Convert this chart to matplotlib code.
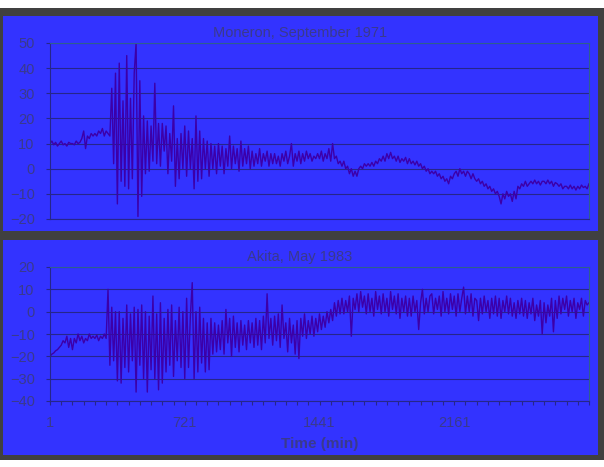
import numpy as np
import matplotlib.pyplot as plt
from matplotlib.patches import Rectangle

# figure size in pixels
W, H = 604, 467

# readings every 10 minutes, t = 1, 11, ..., 2881
moneron = [
    10, 11, 9.5, 10.5, 9, 10, 11, 9.5, 10, 9, 10.5, 10,
    10, 9.5, 11, 10, 10.5, 12, 15, 8, 13, 12, 14, 13,
    14, 13, 15, 14, 16, 13, 15, 14, 13, 32, 2, 38,
    -14, 42, -5, 27, -7, 45, -8, 28, -4, 38, 50, -19,
    35, -11, 21, -2, 19, -1, 17, 3, 34, 2, 18, 1,
    18, 7, 17, -2, 14, 3, 25, -7, 12, -4, 14, 0,
    17, -3, 15, 0, 12, -8, 21, -5, 15, -4, 12, 0,
    11, -3, 10, 0, 9, -2, 10, 1, 9, -2, 8, 1,
    13, 0, 9, 2, 8, -1, 11, 1, 8, 2, 9, 0,
    7, 1, 6, 2, 8, 1, 6, 3, 7, 1, 6, 2,
    6, 2, 5, 1, 6, 3, 7, 2, 5, 10, 1, 6,
    3, 7, 2, 6, 3, 7, 4, 6, 3, 5, 4, 6,
    4, 7, 3, 6, 4, 8, 3, 10, 4, 5, 2, 3,
    1, 3, 0, 1, -2, 0, -3, -1, -3, 0, 1, 0,
    2, 1, 2, 1, 2.5, 1, 3, 2, 4, 3, 5, 3,
    6, 4, 6.5, 4, 5, 3, 5, 2.5, 4, 3, 4.5, 2,
    4, 2, 3, 1.5, 3, 1, 2, 0, 1, -1, 0, -2,
    -1, -2, -1, -3, -2, -4, -3, -5, -4, -6, -3, -4,
    -2, -1, -3, 0, -2, -1, -3, -1, -2, -4, -2, -4,
    -5, -4, -6, -5, -7, -6, -8, -7, -9, -8, -10, -9,
    -11, -14, -10, -12, -9, -11, -10, -13, -9, -12, -7, -8,
    -6, -7, -5, -7, -6, -5, -6, -4.5, -6, -5, -6.5, -5,
    -5, -6, -4.5, -6, -5, -7, -5.5, -6, -7, -6, -8, -7,
    -7, -8, -6.5, -8, -7, -8.5, -7, -8, -6.5, -7.5, -7, -8,
    -6,
]

akita = [
    -20, -19, -18.5, -17.5, -17, -16, -15, -13, -14, -11, -16, -12,
    -17, -12, -14, -10, -13, -11, -14, -12, -13, -10, -12, -11,
    -12, -10.5, -13, -11, -12, -10, -12, 10, -24, 2, -22, 0,
    -31, 0, -32, -3, -25, 3, -27, -1, -22, 2, -36, 1,
    -24, 3, -30, 0, -36, -2, -26, 7, -30, -1, -35, 4,
    -32, -3, -27, 1, -24, 3, -29, -4, -22, 2, -25, 0,
    -30, 6, -25, -2, 13, -30, 0, -27, 2, -23, -3, -27,
    -5, -26, -3, -19, -5, -18, -6, -17, -4, -19, 1, -14,
    -3, -20, -2, -16, -5, -18, -4, -15, -6, -17, -4, -14,
    -5, -16, -3, -15, -4, -17, -2, -14, 8, -12, -3, -15,
    -2, -13, -1, -16, 3, -12, -5, -18, -3, -14, -6, -19,
    -4, -21, -3, -11, -1, -12, -4, -10, -2, -11, -3, -9,
    -1, -8, -2, -7, 0, -5, 1, -4, 4, -2, 5, -1,
    6, -1, 5, 0, 7, -11, 6, 1, 8, 0, 9, 2,
    7, -1, 8, 0, 6, -2, 9, 1, 7, -1, 8, 0,
    6, -2, 9, 1, 7, -1, 8, -3, 6, 0, 7, -2,
    6, -2, 7, 0, 5, -8, 4, 10, -1, 6, 0, 7,
    8, -1, 6, 1, 7, -2, 9, 0, 6, -1, 8, 1,
    7, -2, 8, 0, 6, 11, -1, 7, 0, 8, -2, 6,
    5, -4, 6, -1, 7, 0, 5, -3, 6, -1, 7, -2,
    6, -3, 5, 0, 7, -1, 6, -2, 4, -3, 5, -1,
    6, -2, 5, -3, 4, -1, 6, -4, 3, -2, 5, -10,
    4, -5, 3, -2, 6, -9, 5, -3, 7, -1, 6, 1,
    7, -2, 5, 0, 6, -3, 4, 1, 6, -2, 5, 3,
    4,
]

minutes = np.arange(1, 2882, 10)
x_labels = [1, 721, 1441, 2161]
top_yticks = [-20, -10, 0, 10, 20, 30, 40, 50]
bot_yticks = [-40, -30, -20, -10, 0, 10, 20]

blue = '#3333FF'
frame = '#404040'
grid_c = '#26268A'
text_c = '#3A3A8C'
line_c = '#3C00A8'

fig = plt.figure(figsize=(W / 100, H / 100), dpi=100)
fig.patch.set_facecolor('white')


def box(x0, y0, x1, y1, color):
    # pixel box, origin top-left
    fig.patches.append(Rectangle((x0 / W, 1 - y1 / H), (x1 - x0) / W, (y1 - y0) / H,
                                 transform=fig.transFigure, facecolor=color,
                                 edgecolor='none', zorder=-5))


box(0, 8, W, 460, frame)
box(3, 16, 598, 231, blue)
box(3, 240, 598, 455, blue)


def make_axes(px_top, px_bot, ylim, yticks):
    ax = fig.add_axes([50 / W, 1 - px_bot / H, 539 / W, (px_bot - px_top) / H])
    ax.set_facecolor('none')
    ax.set_xlim(1, 2881)
    ax.set_ylim(*ylim)
    ax.set_yticks(yticks)
    ax.grid(axis='y', color=grid_c, lw=0.8)
    ax.set_axisbelow(True)
    for s in ['top', 'right']:
        ax.spines[s].set_color('#2F5F8F')
        ax.spines[s].set_linewidth(0.8)
    ax.spines['left'].set_color(grid_c)
    ax.spines['bottom'].set_color(grid_c)
    ax.tick_params(axis='y', colors=grid_c, labelcolor=text_c, labelsize=10.5,
                   length=3, pad=8)
    for lab in ax.get_yticklabels():
        lab.set_family('Liberation Sans')
    return ax


ax1 = make_axes(43, 219, (-20, 50), top_yticks)
ax1.plot(minutes, moneron, color=line_c, lw=1.0)
ax1.set_xticks([])

ax2 = make_axes(267, 401, (-40, 20), bot_yticks)
ax2.plot(minutes, akita, color=line_c, lw=1.0)
ticks = np.arange(1, 2882, 60)
ax2.set_xticks(ticks)
ax2.set_xticklabels([str(t) if t in x_labels else '' for t in ticks],
                    family='Liberation Sans')
ax2.tick_params(axis='x', colors=grid_c, labelcolor=text_c, labelsize=10.5,
                length=3, pad=8)
ax2.set_xlabel('Time (min)', color=text_c, fontsize=11, fontweight='bold',
               family='Liberation Sans', labelpad=5)

fig.text(300 / W, 1 - 33 / H, 'Moneron, September 1971', ha='center', va='center',
         color=text_c, fontsize=10.5, family='Liberation Sans')
fig.text(300 / W, 1 - 257 / H, 'Akita, May 1983', ha='center', va='center',
         color=text_c, fontsize=10.5, family='Liberation Sans')

fig.savefig('out.png', dpi=100, facecolor=fig.get_facecolor())
